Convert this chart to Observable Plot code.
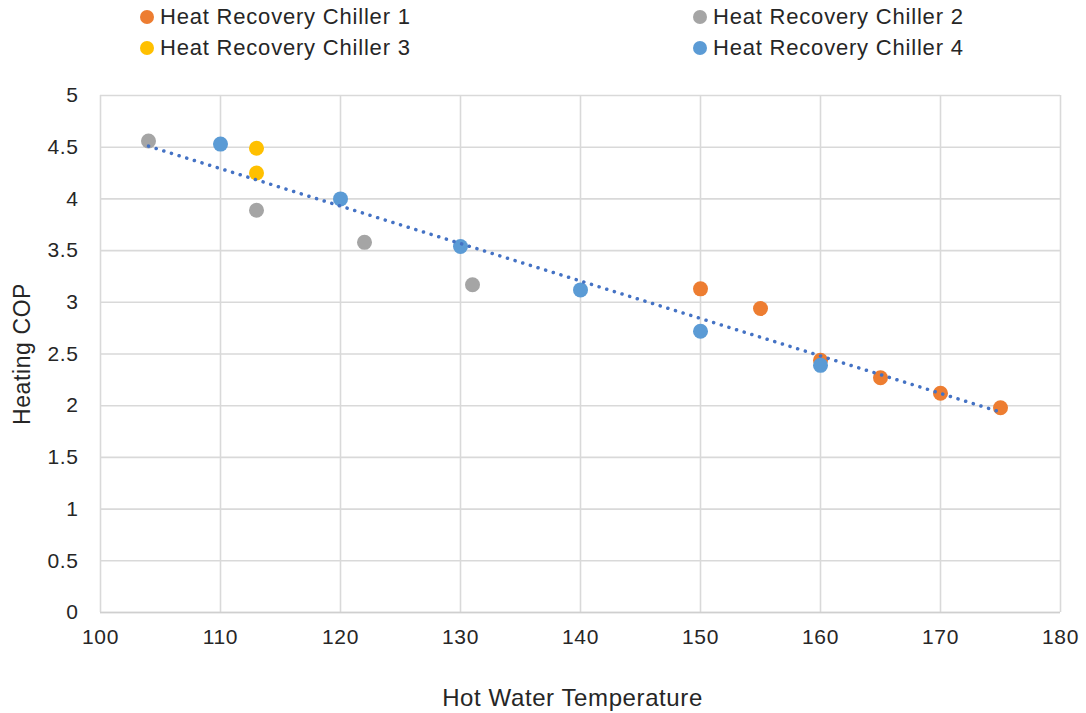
<!DOCTYPE html>
<html>
<head>
<meta charset="utf-8">
<script src="https://cdn.jsdelivr.net/npm/d3@7"></script>
<script src="https://cdn.jsdelivr.net/npm/@observablehq/plot@0.6"></script>
<style>
  html, body { margin: 0; padding: 0; background: #fff; }
  body { width: 1086px; height: 713px; overflow: hidden; font-family: "Liberation Sans", Arial, sans-serif; color: #262626; }
  #legend { position: relative; height: 80px; font-size: 22px; letter-spacing: 0.8px; }
  .item { position: absolute; display: flex; align-items: center; white-space: nowrap; line-height: 26px; }
  .sw { width: 14px; height: 14px; border-radius: 50%; margin-right: 6px; }
  #chart svg { display: block; }
  #chart svg text { letter-spacing: 0.6px; }
</style>
</head>
<body>
<div id="legend"></div>
<div id="chart"></div>
<script>
const seriesNames = ["Heat Recovery Chiller 1", "Heat Recovery Chiller 2", "Heat Recovery Chiller 3", "Heat Recovery Chiller 4"];
const seriesColors = ["#ED7D31", "#A5A5A5", "#FFC000", "#5B9BD5"];

const chiller1Temp = [150, 155, 160, 165, 170, 175];
const chiller1COP  = [3.13, 2.94, 2.44, 2.27, 2.12, 1.98];
const chiller2Temp = [104, 113, 122, 131];
const chiller2COP  = [4.56, 3.89, 3.58, 3.17];
const chiller3Temp = [113, 113];
const chiller3COP  = [4.49, 4.25];
const chiller4Temp = [110, 120, 130, 140, 150, 160];
const chiller4COP  = [4.53, 4.00, 3.54, 3.12, 2.72, 2.39];

const xTicks = [100, 110, 120, 130, 140, 150, 160, 170, 180];
const yTicks = [0, 0.5, 1, 1.5, 2, 2.5, 3, 3.5, 4, 4.5, 5];

const temps = [chiller1Temp, chiller2Temp, chiller3Temp, chiller4Temp];
const cops = [chiller1COP, chiller2COP, chiller3COP, chiller4COP];
const data = [];
temps.forEach((ts, i) => ts.forEach((t, j) => data.push({series: seriesNames[i], temp: t, cop: cops[i][j]})));

// legend
const legend = document.getElementById("legend");
const pos = [[140, 17], [693, 17], [140, 48], [693, 48]];
seriesNames.forEach((name, i) => {
  const d = document.createElement("div");
  d.className = "item";
  d.style.left = pos[i][0] + "px";
  d.style.top = (pos[i][1] - 13) + "px";
  d.innerHTML = `<span class="sw" style="background:${seriesColors[i]}"></span><span>${name}</span>`;
  legend.appendChild(d);
});

const chart = Plot.plot({
  width: 1086,
  height: 633,
  marginTop: 15,
  marginBottom: 101,
  marginLeft: 100,
  marginRight: 26,
  style: { fontFamily: "Liberation Sans, Arial, sans-serif", fontSize: "21px", color: "#262626", background: "#fff" },
  x: { domain: [100, 180], label: null },
  y: { domain: [0, 5], label: null },
  color: { domain: seriesNames, range: seriesColors },
  marks: [
    Plot.gridX(xTicks, { stroke: "#d9d9d9", strokeOpacity: 1, strokeWidth: 1.6 }),
    Plot.gridY(yTicks, { stroke: "#d9d9d9", strokeOpacity: 1, strokeWidth: 1.6 }),
    Plot.ruleY([0], { stroke: "#cfcfcf", strokeWidth: 1.6 }),
    Plot.axisX({ ticks: xTicks, tickSize: 0, tickPadding: 17, fontSize: 21, label: null, tickFormat: d => String(d) }),
    Plot.axisY({ ticks: yTicks, tickSize: 0, tickPadding: 22, fontSize: 21, label: null, tickFormat: d => String(d) }),
    Plot.dot(data, { x: "temp", y: "cop", fill: "series", r: 7.5, stroke: null }),
    Plot.linearRegressionY(data, { x: "temp", y: "cop", ci: 0, stroke: "#4472C4", strokeWidth: 3.5, strokeDasharray: "0.1 7.9", strokeLinecap: "round" }),
    Plot.text(["Hot Water Temperature"], { frameAnchor: "bottom", dy: 93, dx: -8, fontSize: 24, fill: "#262626" }),
    Plot.text(["Heating COP"], { frameAnchor: "left", dx: -78, rotate: -90, textAnchor: "middle", fontSize: 23, fill: "#262626" })
  ]
});
document.getElementById("chart").appendChild(chart);
</script>
</body>
</html>
